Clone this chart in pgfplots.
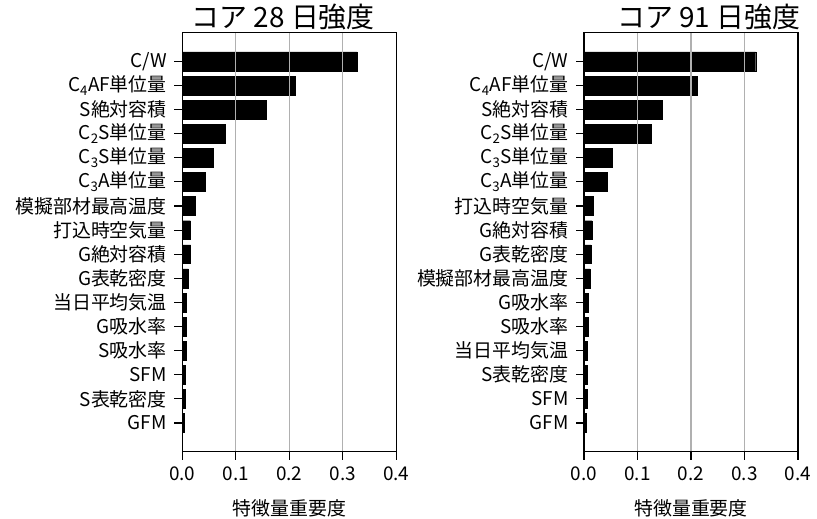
\documentclass[border=0pt]{standalone}
\usepackage{fontspec}
\setmainfont{Noto Sans CJK JP}
\usepackage{pgfplots}
\usepackage{pgfplotstable}
\pgfplotsset{compat=1.18}

% feature importances, row 0 = bottom bar, row 15 = top bar
\pgfplotstableread{
y imp
0  0.0037
1  0.0056
2  0.0056
3  0.0070
4  0.0069
5  0.0082
6  0.0112
7  0.0157
8  0.0150
9  0.0250
10 0.0430
11 0.0580
12 0.0800
13 0.1560
14 0.2110
15 0.3270
}\coreA

\pgfplotstableread{
y imp
0  0.0037
1  0.0056
2  0.0062
3  0.0062
4  0.0075
5  0.0087
6  0.0110
7  0.0130
8  0.0150
9  0.0170
10 0.0430
11 0.0520
12 0.1250
13 0.1470
14 0.2120
15 0.3210
}\coreB

\pgfplotsset{
  imp/.style={
    scale only axis, width=214bp, height=419bp,
    anchor=south west,
    xbar, bar width=0.78, bar shift=0pt,
    xmin=0, xmax=0.4, ymin=-1.19, ymax=16.19,
    xtick={0,0.1,0.2,0.3,0.4},
    xticklabel style={yshift=-4bp, /pgf/number format/.cd, fixed, fixed zerofill, precision=1, assume math mode=true},
    ytick={0,...,15},
    xmajorgrids, major grid style={color=black!31, line width=1.2bp},
    axis on top,
    tick align=outside, major tick length=8bp,
    xtick pos=bottom, ytick pos=left,
    axis line style={line width=1.1bp},
    every tick/.style={black, line width=1.1bp},
    ticklabel style={font=\fontsize{19}{22}\selectfont},
    yticklabel style={xshift=-4bp},
    xlabel={特徴量重要度},
    xlabel style={yshift=-12bp},
    label style={font=\fontsize{19}{22}\selectfont},
  }
}

\begin{document}
\begin{tikzpicture}
\useasboundingbox (0,0) rectangle (817bp,519bp);

\begin{axis}[imp, at={(182.3bp,67.3bp)},
  yticklabels={GFM, S表乾密度, SFM, S吸水率, G吸水率, 当日平均気温, G表乾密度, G絶対容積, 打込時空気量, 模擬部材最高温度, C\textsubscript{3}A単位量, C\textsubscript{3}S単位量, C\textsubscript{2}S単位量, S絶対容積, C\textsubscript{4}AF単位量, C/W}]
  \addplot[fill=black, draw=black, line width=0.4bp] table[x=imp, y=y] {\coreA};
\end{axis}

\begin{axis}[imp, at={(584bp,67.3bp)},
  yticklabels={GFM, SFM, S表乾密度, 当日平均気温, S吸水率, G吸水率, 模擬部材最高温度, G表乾密度, G絶対容積, 打込時空気量, C\textsubscript{3}A単位量, C\textsubscript{3}S単位量, C\textsubscript{2}S単位量, S絶対容積, C\textsubscript{4}AF単位量, C/W}]
  \addplot[fill=black, draw=black, line width=0.4bp] table[x=imp, y=y] {\coreB};
\end{axis}

\node[anchor=base, font=\fontsize{28}{31}\selectfont] at (283.3bp,491bp) {コア 28 日強度};
\node[anchor=base, font=\fontsize{28}{31}\selectfont] at (708.8bp,491bp) {コア 91 日強度};
\end{tikzpicture}
\end{document}
